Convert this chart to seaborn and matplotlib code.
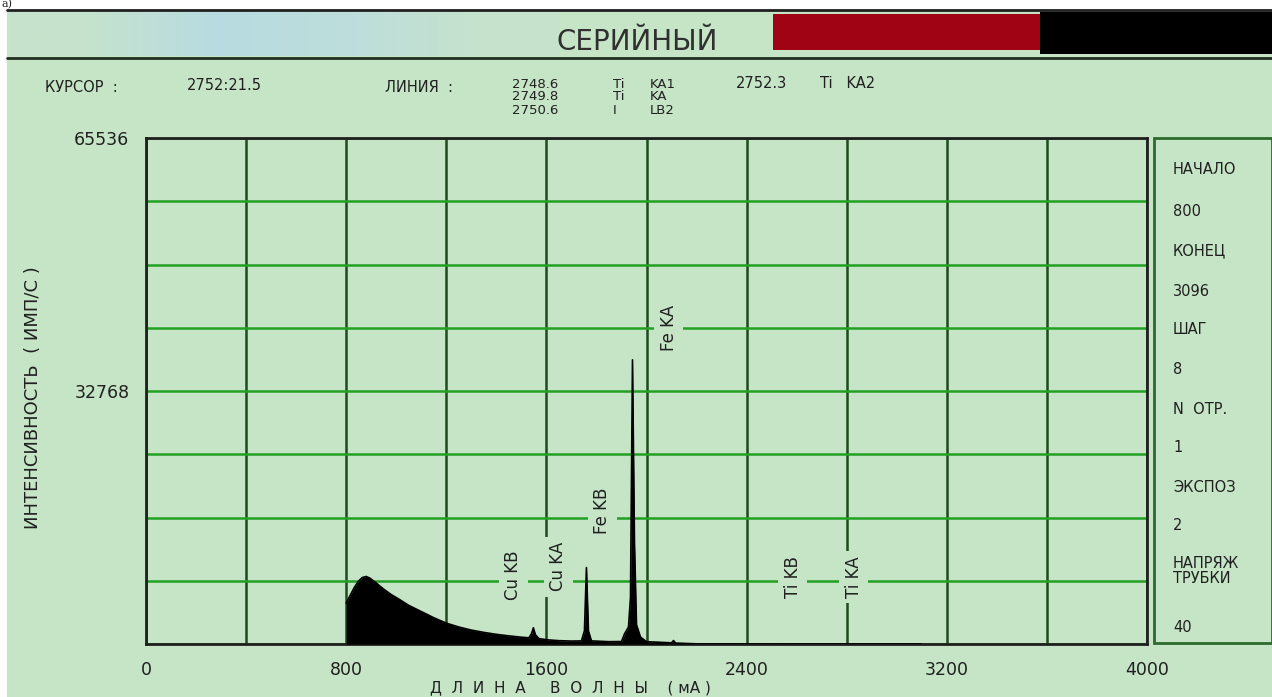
import numpy as np
import pandas as pd
import matplotlib
matplotlib.use('Agg')
import matplotlib.pyplot as plt
import seaborn as sns
from matplotlib.patches import Rectangle

# spectrum (wavelength in mA, intensity in imp/s)
wavelength = [800, 816, 832, 848, 864, 880, 896, 920, 950, 980, 1016, 1050,
              1100, 1150, 1200, 1250, 1300, 1350, 1400, 1450, 1500, 1530,
              1540, 1548, 1556, 1570, 1600, 1650, 1700, 1740, 1752, 1760,
              1768, 1780, 1850, 1900, 1912, 1928, 1936, 1944, 1952, 1960,
              1976, 2000, 2100, 2108, 2116, 2200, 2600, 3096]
intensity = [5300, 6300, 7300, 8100, 8600, 8750, 8500, 7900, 7100, 6400, 5700, 5000,
             4200, 3400, 2700, 2200, 1800, 1500, 1250, 1050, 880, 800,
             1300, 2100, 1200, 700, 550, 430, 380, 400, 1700, 9900,
             1700, 400, 300, 320, 1300, 2200, 6000, 36800, 13000, 2500,
             900, 300, 150, 450, 120, 20, 0, 0]

x_ticks = [0, 800, 1600, 2400, 3200, 4000]
y_ticks = [0, 32768, 65536]
y_tick_labels = ['', '32768', '65536']

# line markers drawn by the instrument (label, wavelength, centre height)
marker_names = ['Cu KB', 'Cu KA', 'Fe KB', 'Fe KA', 'Ti KB', 'Ti KA']
marker_pos = [1468, 1648, 1824, 2088, 2584, 2828]
marker_y = [8900, 10000, 17200, 40960, 8700, 8700]

# header
cursor_text = '2752:21.5'
line_values = ['2748.6', '2749.8', '2750.6']
line_elem = ['Ti', 'Ti', 'I']
line_names = ['KA1', 'KA', 'LB2']

# side panel
panel_items = ['НАЧАЛО', '800', 'КОНЕЦ', '3096', 'ШАГ', '8', 'N  ОТР.', '1',
               'ЭКСПОЗ', '2', 'НАПРЯЖ\nТРУБКИ', '40']
panel_y = [169, 211, 251, 291, 330, 370, 409, 448, 487, 526, 571, 628]

bg_col = '#c6e4c6'
spec = pd.DataFrame({'wl': wavelength, 'cnt': intensity})

sns.set_theme(style='white')
plt.rcParams['font.family'] = ['DejaVu Sans']

fig = plt.figure(figsize=(12.72, 6.97), dpi=100)
fig.patch.set_facecolor('white')

# full-figure layer in pixel coords for the screen decorations
bg = fig.add_axes([0, 0, 1, 1])
bg.set_xlim(0, 1272)
bg.set_ylim(697, 0)
bg.axis('off')
bg.add_patch(Rectangle((7, 10), 1265, 687, facecolor=bg_col, edgecolor='none'))
grad = np.array([[[0.78, 0.89, 0.80], [0.72, 0.86, 0.88], [0.74, 0.87, 0.86], [0.78, 0.89, 0.80]]])
bg.imshow(grad, extent=[10, 560, 56, 12], aspect='auto', interpolation='bilinear', zorder=1)
bg.plot([7, 1272], [10, 10], color='#202020', lw=2, zorder=3)
bg.plot([7, 1272], [58, 58], color='#203020', lw=2, zorder=3)
bg.add_patch(Rectangle((773, 14), 267, 36, facecolor='#a00414', edgecolor='none', zorder=2))
bg.add_patch(Rectangle((1040, 12), 232, 42, facecolor='black', edgecolor='none', zorder=2))
bg.text(1, 4, 'а)', fontsize=8, va='center', ha='left', family='DejaVu Serif')
bg.text(637, 42, 'СЕРИЙНЫЙ', fontsize=20, ha='center', va='center', color='#303030')

hdr = dict(fontsize=10.5, color='#202020', va='center')
bg.text(45, 88, 'КУРСОР  :', **hdr)
bg.text(187, 86, cursor_text, **hdr)
bg.text(385, 88, 'ЛИНИЯ  :', **hdr)
stack = dict(fontsize=9.5, color='#202020', va='center')
for i in range(3):
    yy = 84 + 13 * i
    bg.text(512, yy, line_values[i], **stack)
    bg.text(613, yy, line_elem[i], **stack)
    bg.text(650, yy, line_names[i], **stack)
bg.text(736, 84, '2752.3', **hdr)
bg.text(820, 84, 'Ti   KA2', **hdr)

bg.text(33, 398, 'ИНТЕНСИВНОСТЬ  ( ИМП/С )', rotation=90, fontsize=13,
        ha='center', va='center', color='#202020')
bg.text(570, 688, 'Д  Л  И  Н  А     В  О  Л  Н  Ы    ( мА )', fontsize=11,
        ha='center', va='center', color='#202020')

# side panel
bg.add_patch(Rectangle((1154, 138), 118, 505, facecolor=bg_col, edgecolor='#2c6a2c', lw=2, zorder=2))
for txt, yy in zip(panel_items, panel_y):
    bg.text(1173, yy, txt, fontsize=10.5, va='center', ha='left', color='#202020',
            linespacing=1.0, zorder=3)

# spectrum axes
ax = fig.add_axes([146 / 1272, 1 - 644 / 697, (1147 - 146) / 1272, (644 - 138) / 697])
ax.set_facecolor('none')
ax.set_xlim(0, 4000)
ax.set_ylim(0, 65536)
ax.set_xticks(x_ticks)
ax.set_xticks(range(0, 4001, 400), minor=True)
ax.set_yticks(y_ticks)
ax.set_yticklabels(y_tick_labels)
ax.set_yticks(range(0, 65537, 8192), minor=True)
ax.grid(which='both', axis='x', color='#1e4a1e', lw=1.8)
ax.grid(which='both', axis='y', color='#22a022', lw=1.8)
ax.tick_params(which='major', direction='inout', length=12, width=1.5, color='#202020',
               labelsize=12.5, labelcolor='#202020', pad=6)
ax.tick_params(which='minor', length=0)
for s in ax.spines.values():
    s.set_color('#202020')
    s.set_linewidth(2)

ax.fill_between(spec['wl'], 0, spec['cnt'], color='black', lw=0, zorder=3)
sns.lineplot(data=spec, x='wl', y='cnt', color='black', lw=1.2, ax=ax, zorder=3)
ax.set_xlabel('')
ax.set_ylabel('')

for name, xp, yp in zip(marker_names, marker_pos, marker_y):
    ax.text(xp, yp, name, rotation=90, fontsize=12, ha='center', va='center',
            color='#202020', zorder=4,
            bbox=dict(facecolor=bg_col, edgecolor='none', pad=4))

fig.savefig('out.png', dpi=100)
